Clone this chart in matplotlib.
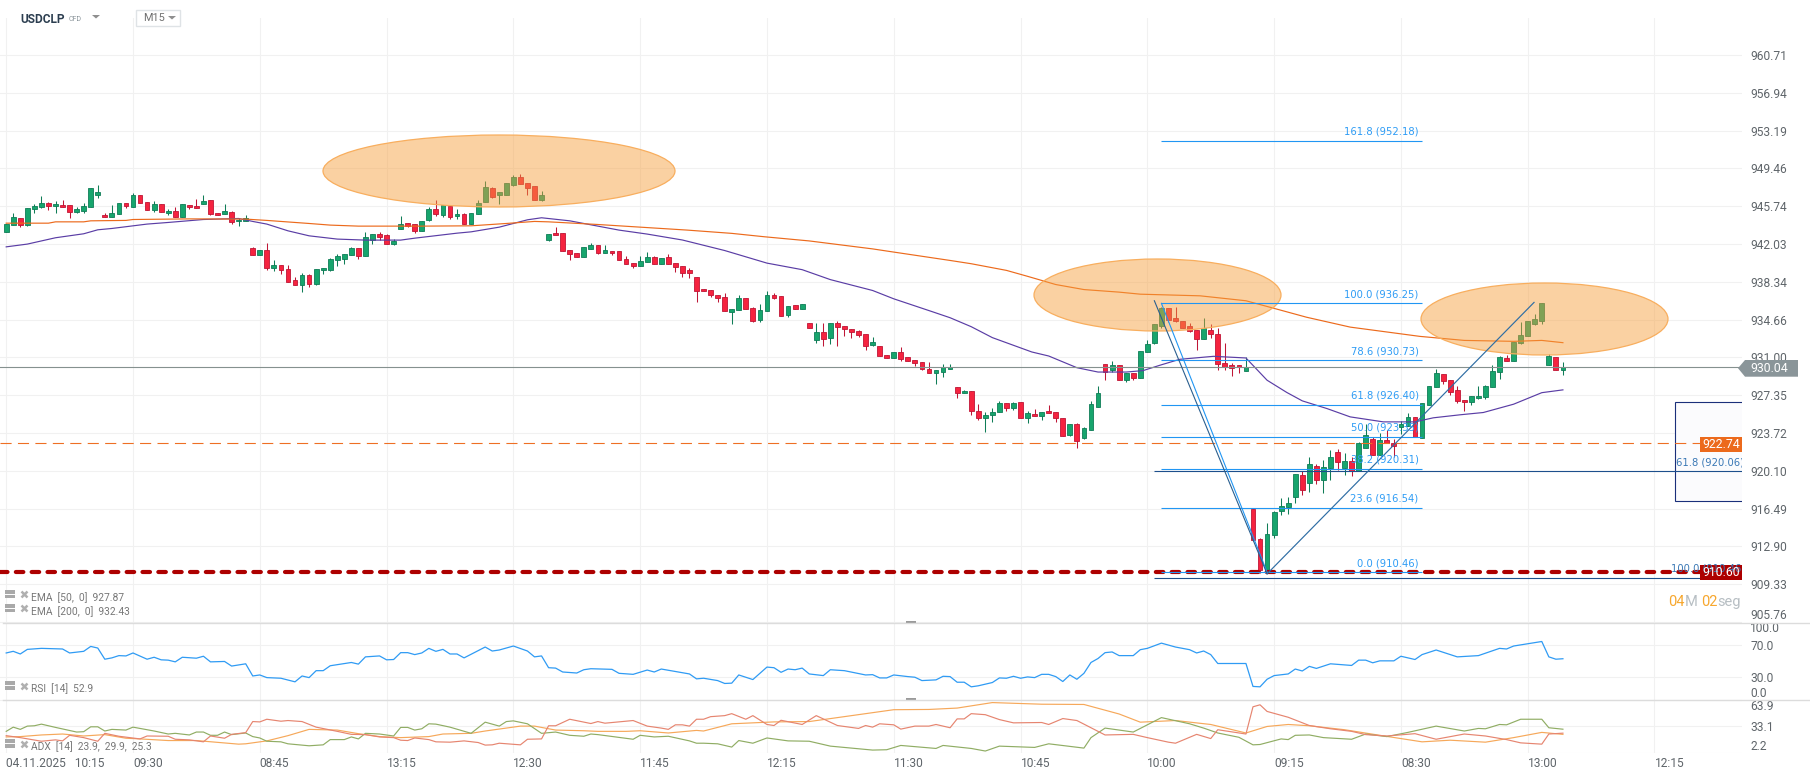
import numpy as np
import matplotlib
matplotlib.use("Agg")
import matplotlib.pyplot as plt
from matplotlib.patches import Ellipse, Rectangle, Polygon

plt.rcParams['font.family'] = ['Roboto', 'DejaVu Sans']

W, H = 1810, 779

# candles
opens = [943.2,943.9,944.6,943.9,945.5,945.7,946.1,945.8,945.9,945.9,
         945.2,945.3,945.7,946.8,944.9,944.7,945.0,946.1,945.7,946.8,
         946.2,945.4,946.0,945.1,945.3,944.7,945.9,945.8,946.0,946.4,
         945.1,945.0,945.2,944.25,944.3,941.6,941.0,941.5,939.7,940.0,
         939.6,938.5,938.0,939.0,938.1,939.5,939.5,940.5,940.6,941.0,
         941.6,940.9,942.45,943.05,942.9,942.05,943.55,944.05,943.95,943.35,
         944.35,945.5,944.85,945.8,944.75,944.95,944.0,945.0,946.2,947.5,
         946.85,946.85,947.85,948.65,948.0,947.7,946.4,942.45,943.15,943.15,
         941.5,941.2,940.8,941.55,941.9,941.2,941.4,941.35,940.55,940.2,
         939.85,940.25,940.75,940.05,940.75,940.2,939.9,939.5,938.8,937.65,
         937.55,937.1,936.9,935.4,935.6,936.8,935.8,934.6,935.5,937.05,
         936.95,935.1,936.1,935.7,934.35,932.7,933.5,932.9,934.35,934.0,
         933.8,933.6,933.3,932.2,932.15,931.25,930.95,931.55,931.0,930.8,
         930.6,929.9,929.5,929.6,929.9,928.15,927.55,927.8,925.85,925.15,
         925.45,925.75,926.6,926.1,926.7,925.15,925.55,925.35,925.85,925.75,
         925.2,923.5,924.6,923.2,924.05,926.2,930.4,929.75,930.25,928.8,
         929.45,929.0,931.55,932.36,934.03,935.76,934.8,934.51,934.03,933.65,
         932.75,933.65,933.26,930.47,930.28,930.28,929.67,916.45,913.63,910.68,
         913.98,916.23,916.64,917.64,919.69,918.92,920.56,919.18,920.37,921.9,
         920.37,921.04,920.04,922.29,923.16,921.58,923.06,922.77,924.31,924.41,
         925.27,923.25,926.43,928.16,929.41,928.8,927.87,926.91,926.69,927.07,
         927.17,928.16,929.6,930.95,930.63,932.43,933.07,934.26,934.58,930.25,
         931.05,929.77]
closes = [944.0,944.64,943.9,945.6,945.8,946.1,945.8,946.0,945.7,945.2,
          945.5,945.8,947.5,947.1,944.7,945.1,946.1,945.8,946.8,946.1,
          945.4,946.0,945.2,945.3,944.7,946.0,945.7,945.6,946.3,945.0,
          944.9,945.3,944.2,944.4,944.6,941.0,941.5,939.7,940.0,939.5,
          938.3,938.0,939.0,938.1,939.6,939.7,940.6,940.85,941.1,941.6,
          940.85,942.7,943.0,942.75,942.0,942.3,943.95,943.8,943.35,944.25,
          945.5,945.0,945.9,944.7,944.95,944.0,945.05,946.1,947.6,946.65,
          947.1,948.0,948.65,947.95,947.55,946.4,946.8,943.05,942.95,941.35,
          941.05,940.8,941.7,941.9,941.2,941.45,941.2,940.45,940.05,939.85,
          940.35,940.75,940.05,940.65,940.05,939.75,939.25,939.25,937.45,937.45,
          937.05,936.75,935.5,935.7,936.8,935.7,934.55,935.6,937.05,936.75,
          935.0,936.0,935.7,936.2,933.85,933.5,932.8,934.35,933.95,933.75,
          933.45,933.2,932.1,932.45,931.15,930.95,931.55,930.85,930.65,930.45,
          929.9,929.5,929.75,930.1,930.1,927.55,927.8,925.8,925.15,925.45,
          925.75,926.6,926.1,926.6,925.15,925.65,925.35,925.75,925.65,925.15,
          923.4,924.6,923.0,924.2,926.55,927.55,929.6,930.25,928.8,929.45,
          929.0,931.65,932.35,934.26,935.76,934.67,934.58,933.9,933.52,932.75,
          933.9,933.23,930.34,930.05,929.99,930.05,930.05,913.5,910.68,914.11,
          916.13,916.77,916.99,919.76,918.31,920.75,919.18,920.46,921.42,920.91,
          921.04,920.04,922.77,923.54,921.58,923.06,922.74,922.48,924.54,925.27,
          923.35,926.62,928.26,929.51,928.71,927.68,926.78,926.69,927.29,927.29,
          928.26,929.7,931.05,930.63,932.49,933.17,934.51,934.74,936.25,931.14,
          929.77,930.1]
highs = [944.0,945.06,944.6,945.6,946.0,946.7,946.2,946.3,946.4,945.9,
         945.7,946.1,947.5,947.8,945.1,945.85,946.1,946.1,947.0,946.8,
         946.2,946.25,946.0,945.5,945.7,946.0,945.9,946.5,946.8,946.4,
         945.1,945.95,945.3,944.55,944.85,941.7,941.5,942.1,940.45,940.0,
         940.0,938.8,939.2,939.15,939.6,939.7,940.7,941.1,941.1,941.7,
         941.6,943.2,943.0,943.2,943.0,942.5,944.75,944.05,943.95,944.25,
         945.7,946.35,945.9,945.8,945.5,945.05,945.05,946.35,948.2,947.6,
         947.1,948.05,948.8,948.95,948.0,947.7,947.2,943.05,943.7,943.15,
         941.5,941.2,941.7,942.1,941.9,941.95,941.4,941.35,940.9,940.2,
         940.9,941.25,940.9,940.65,941.1,940.2,939.9,939.7,938.8,937.65,
         937.55,937.1,937.25,935.7,937.05,936.8,935.85,936.2,937.45,937.25,
         936.95,936.0,936.1,936.2,934.35,934.3,934.3,934.35,934.5,934.0,
         933.8,933.7,933.3,933.0,932.15,931.25,931.55,932.05,931.0,930.8,
         930.6,930.6,929.75,930.4,930.35,928.15,927.9,927.8,926.55,925.75,
         926.1,926.8,926.6,926.7,926.7,925.85,926.05,925.75,926.45,925.75,
         925.2,924.6,924.7,924.3,926.8,928.2,930.4,930.7,930.25,929.45,
         929.45,931.65,932.65,934.26,935.86,935.76,935.86,934.51,934.35,933.65,
         934.8,934.26,933.9,932.43,930.47,930.28,931.05,916.45,913.7,915.1,
         916.29,917.51,917.57,919.76,920.11,921.42,920.75,921.17,922.1,922.2,
         921.78,921.42,922.87,924.57,923.35,923.73,924.02,923.19,924.92,925.69,
         925.27,926.62,928.26,929.93,929.41,928.8,928.26,926.91,927.29,928.29,
         928.35,930.25,931.15,931.27,932.49,934.42,934.51,935.22,936.25,931.37,
         931.05,930.57]
lows = [943.2,943.9,943.7,943.8,945.1,945.6,945.4,945.1,945.7,944.6,
        945.1,945.1,945.65,946.6,944.7,944.7,945.0,945.6,945.65,946.1,
        945.4,945.2,945.2,944.9,944.7,944.7,945.5,945.6,946.0,944.9,
        944.9,945.0,944.0,943.8,944.3,941.0,941.0,939.5,939.4,939.1,
        938.3,938.0,937.4,937.85,938.0,939.1,939.4,939.9,940.1,941.0,
        940.55,940.9,942.0,942.45,942.0,941.9,943.55,943.7,943.1,943.35,
        944.3,944.8,944.7,944.5,944.5,944.0,944.0,945.0,946.2,946.55,
        946.0,946.85,947.75,947.95,946.85,946.4,946.3,942.3,942.95,941.35,
        940.5,940.8,940.8,941.55,941.05,941.2,941.0,940.45,940.05,939.65,
        939.85,940.25,940.05,940.05,940.05,939.35,938.8,938.7,936.35,937.45,
        936.85,936.35,935.5,934.25,935.6,935.7,934.4,934.45,935.5,936.65,
        935.0,934.9,935.7,935.7,933.85,932.4,932.1,932.3,932.1,933.1,
        932.9,933.0,931.7,932.1,931.15,930.95,930.95,930.65,930.65,930.15,
        929.75,929.5,928.4,929.1,929.9,927.05,927.55,925.45,924.95,923.85,
        924.75,925.75,925.8,925.95,925.15,924.65,925.35,924.95,925.65,924.75,
        923.4,923.4,922.3,923.1,924.0,926.2,928.8,929.55,928.8,928.6,
        928.8,929.0,931.55,932.27,933.84,934.48,934.48,933.9,933.45,931.7,
        932.75,932.85,929.77,929.77,929.19,929.45,929.67,913.4,910.4,910.5,
        913.69,915.87,915.97,917.03,917.8,918.12,918.86,917.96,919.24,920.2,
        919.66,919.56,920.04,922.29,921.58,921.58,922.74,921.42,923.64,924.41,
        923.35,923.25,926.43,928.16,928.42,927.36,926.62,925.79,926.4,926.97,
        926.97,928.16,928.96,930.63,930.63,932.33,933.07,934.1,934.26,930.25,
        929.77,929.35]

# moving averages
ema50_x = [0,3,7,11,13,15,20,23,28,33,35,37,40,43,47,51,56,58,64,66,70,74,76,80,84,87,91,96,102,108,113,117,123,126,
           131.5,134,137,140,145.6,148,152,155,159,161.4,163.8,166.6,171.4,176,179,181.8,184,187.5,190.8,195.5,200,
           202.6,206.4,209.7,214,218,221]
ema50 = [941.76,942.03,942.65,943.04,943.43,943.56,943.99,944.15,944.44,944.54,944.25,943.99,943.33,942.84,942.52,
         942.42,942.42,942.61,943.1,943.23,943.69,944.41,944.61,944.31,943.79,943.4,943.01,942.43,941.4,940.17,939.53,
         938.56,937.5,936.69,935.43,934.85,933.98,932.92,931.53,931.14,930.01,929.59,929.59,929.73,930.25,930.82,
         931.11,930.95,928.8,927.62,926.81,926.07,925.27,924.79,924.79,925.18,925.47,925.69,926.49,927.6,927.87]
ema200_x = [0,6,7,11,12,17,18,26,34,37,43,46,50,59,66,71,75,77,84,96.7,103,107.6,114,123,125.5,134,137,142,145,149,
            153,158,161,169.5,176,180,184.6,190.8,200.7,207,214,218,221]
ema200 = [944.08,944.08,944.21,944.21,944.31,944.35,944.44,944.5,944.48,944.35,944.05,943.89,943.79,943.79,943.82,
          944.05,944.25,944.21,943.95,943.4,943.08,942.75,942.34,941.56,941.3,940.43,940.11,939.46,938.88,938.08,
          937.59,937.34,937.14,936.98,936.5,935.76,934.9,933.94,933.04,932.65,932.56,932.65,932.43]

# RSI panel
rsi_x = [0,1,2,3,5,8,9,11,12,13,14,15,16,17,18,20,21,22,23,24,25,27,28,29,31,32,34,35,36,37,39,41,42,43,44,45,46,49,
         50,51,53,54,55,56,57,58,59,60,61,62,63,64,65,68,69,70,72,74,75,76,77,78,79,81,82,83,86,87,89,91,92,93,97,98,
         99,101,102,103,104,106,108,109,110,111,112,113,114,116,117,119,122,123,124,125,126,128,129,130,132,133,134,
         135,136,137,138,140,141,142,143,144,145,146,147,148,149,150,151,152,153,154,155,156,157,158,160,161,162,164,
         166,168,169,170,171,172,176,177,178,179,180,182,183,184,185,186,188,191,192,193,194,195,197,198,200,201,203,
         206,209,212,213,214,216,218,219,220,221]
rsi = [60.3,62.4,59.0,64.9,66.2,65.4,60.3,62.4,68.7,66.6,52.3,54.0,56.9,56.5,60.3,52.3,54.8,51.5,51.1,48.9,54.8,53.6,
       56.1,48.9,49.4,43.5,46.4,30.8,32.1,28.7,27.9,23.3,30.8,28.7,37.6,37.6,43.9,48.1,46.0,55.3,56.5,51.5,51.9,60.7,
       60.7,58.2,60.3,66.2,62.4,64.9,59.0,59.0,54.0,67.9,62.8,64.1,69.2,62.8,55.3,56.5,41.4,40.9,35.9,34.6,38.8,40.1,
       39.3,34.2,32.9,38.4,35.9,39.7,33.4,27.1,27.9,24.9,21.2,21.6,32.1,26.2,42.2,41.4,35.5,39.7,38.8,40.9,33.4,31.3,
       38.8,37.6,32.1,32.5,28.3,28.3,32.1,30.0,29.2,24.9,25.8,30.4,30.0,22.8,22.8,16.9,18.2,22.4,28.3,27.9,30.4,27.9,
       29.6,28.7,32.9,32.9,30.0,23.7,32.1,26.6,34.2,48.1,53.2,60.7,61.6,56.9,56.9,64.5,66.2,72.9,67.9,64.5,60.3,62.8,
       58.2,46.8,46.8,17.4,16.9,26.6,31.3,33.4,39.7,37.2,43.1,40.5,46.4,44.3,51.1,51.1,47.7,50.2,50.2,56.1,51.9,58.2,
       64.1,55.3,56.9,66.2,65.4,69.2,72.1,75.0,55.3,52.3,52.9]

# ADX panel
adx_x = [0,2,5,8,11,14,17,19,23,27,33,34,37,40,43,47,50,53,56,60,62,66,68,73,75,78,82,84,88,90,94,98,99,103,109,114,
         126,131,135,140,147,153,158,161,166,171,176,179,182,185,190,195,201,205,210,214,218,221]
adx = [20.9,21.3,23.2,24.3,22.0,23.6,19.4,18.6,16.7,16.7,12.5,12.9,16.3,22.4,29.7,28.9,24.7,21.3,20.1,21.3,24.3,25.1,
       27.8,33.5,33.5,28.9,28.1,27.4,27.4,28.1,25.5,28.5,27.8,36.2,38.4,38.8,52.6,52.9,54.5,60.9,59.0,58.7,47.6,38.1,
       40.0,35.4,25.5,33.1,35.4,33.9,29.3,22.8,15.2,17.1,14.8,20.1,26.2,23.9]
plus_di_x = [0,1,2,3,4,5,7,10,11,12,13,14,15,17,18,21,23,24,26,27,28,29,30,31,32,34,35,36,37,39,40,43,45,46,48,49,50,
             51,53,55,56,57,58,59,60,61,63,66,68,70,71,72,74,76,78,80,82,83,84,89,90,92,94,97,98,99,101,103,104,106,
             108,111,114,117,123,125,127,132,133,137,139,141,146,148,153,154,156,160,164,168,170,172,175,177,178,181,
             182,183,185,187,191,193,196,199,203,207,209,210,212,213,215,218,219,221]
plus_di = [27.4,32.3,29.7,33.5,33.9,35.8,32.0,26.6,27.0,32.7,32.7,27.8,29.7,28.9,32.3,27.8,24.3,25.1,23.2,26.6,26.6,
           22.8,22.8,26.6,23.6,25.5,21.3,19.7,15.9,15.2,12.9,10.6,11.7,17.8,17.8,20.9,18.6,25.1,24.3,22.0,32.0,32.0,
           28.9,30.4,36.2,35.8,32.3,25.1,38.1,33.5,38.8,39.6,36.2,25.1,26.6,22.8,21.7,24.3,23.6,18.2,22.8,20.9,21.7,
           16.3,13.6,13.6,12.9,9.1,16.7,13.6,19.7,16.3,15.9,10.2,5.6,6.0,11.0,7.5,11.0,7.5,4.5,10.2,8.7,12.9,7.9,20.1,
           31.2,26.6,43.4,36.2,31.2,25.5,20.5,11.7,12.1,18.6,17.8,22.8,23.2,20.1,18.2,24.3,21.3,26.2,33.5,27.8,30.8,
           30.4,35.4,35.0,41.5,41.5,31.6,29.9]
minus_di_x = [0,2,5,7,8,9,11,13,14,16,19,20,23,24,26,28,29,31,32,34,35,36,37,39,40,42,44,47,49,51,53,55,56,57,58,60,
              61,63,65,67,68,69,70,73,74,76,77,78,80,83,84,85,89,91,93,94,95,96,97,98,99,100,102,103,105,106,108,109,
              110,113,115,118,121,122,123,124,126,127,129,131,132,134,135,136,137,139,141,143,147,148,150,152,154,156,
              160,162,165,166,169,171,172,176,177,178,179,182,185,188,191,193,196,200,203,207,210,213,215,218,219,221]
minus_di = [22.4,20.1,15.9,17.5,16.3,22.8,20.1,15.9,25.1,21.7,18.6,22.0,21.7,18.2,17.5,15.2,22.0,19.4,23.9,25.9,38.8,
            38.4,41.5,39.2,40.0,38.8,32.3,27.4,23.9,23.6,20.9,20.1,17.1,16.7,19.7,17.8,15.2,14.8,16.3,14.4,11.4,11.7,
            13.6,11.7,18.2,18.6,33.9,33.9,41.5,36.5,38.8,36.9,40.0,33.5,31.2,29.7,35.0,35.0,33.5,41.5,41.5,44.5,45.7,
            48.0,41.5,45.7,35.4,34.2,40.3,35.4,45.7,34.2,30.8,34.2,32.3,36.2,35.0,30.0,33.5,33.5,35.4,31.6,41.9,41.9,
            48.0,46.8,41.1,37.3,37.7,35.4,42.3,40.0,31.6,23.2,23.9,20.1,14.8,13.6,23.9,19.0,29.3,24.3,56.0,58.3,50.6,
            43.8,34.2,30.4,27.4,23.6,22.0,24.7,18.2,24.3,22.0,17.8,14.0,12.5,24.3,25.3]

price_ticks = [960.71,956.94,953.19,949.46,945.74,942.03,938.34,934.66,931.00,927.35,923.72,920.10,916.49,912.90,909.33,905.76]
time_labels = ["04.11.2025   10:15","09:30","08:45","13:15","12:30","11:45","12:15","11:30","10:45","10:00","09:15","08:30","13:00","12:15"]
rsi_ticks = [100.0, 70.0, 30.0, 0.0]
adx_ticks = [63.9, 33.1, 2.2]

fib_levels = [161.8, 100.0, 78.6, 61.8, 50.0, 38.2, 23.6, 0.0]
fib_prices = [952.18, 936.25, 930.73, 926.40, 923.35, 920.31, 916.54, 910.46]

last_price = 930.04
pending_price = 922.74
support_price = 910.5

# colours
GREEN, GREEN_E = '#17a56d', '#0f7d57'
RED, RED_E = '#f5233f', '#bf1636'
GRID = '#f1f1f1'
FIB = '#2196f3'
FIB_DARK = '#1d4f8c'
LABEL = '#5f656a'

# pixel mapping of the chart area, 1 px is 0.72 pt at this dpi
PX0, PX_STEP = 6.2, 7.044
RIGHT = 1742


def box(x0, y0, x1, y1):
    return [x0 / W, 1 - y1 / H, (x1 - x0) / W, (y1 - y0) / H]


def idx(px):
    return (px - PX0) / PX_STEP


fig = plt.figure(figsize=(W / 100, H / 100), dpi=100, facecolor='white')
ax = fig.add_axes(box(0, 18, RIGHT, 622))
ax_rsi = fig.add_axes(box(0, 622, RIGHT, 700))
ax_adx = fig.add_axes(box(0, 700, RIGHT, 753))
over = fig.add_axes([0, 0, 1, 1], zorder=10)
over.set_xlim(0, W)
over.set_ylim(H, 0)
over.axis('off')
px = over.transData

grid_x = np.arange(0, 235, 18)
for a in (ax, ax_rsi, ax_adx):
    a.set_xlim(idx(0), idx(RIGHT))
    a.set_xticks(grid_x)
    a.yaxis.tick_right()
    a.tick_params(length=0, labelsize=8.64, labelcolor=LABEL, pad=5.8)
    a.grid(True, color=GRID, lw=0.8)
    a.set_axisbelow(True)
    for s in a.spines.values():
        s.set_visible(False)

# main panel
ax.set_yscale('log')
ax.set_ylim(905.76, 964.42)
ax.set_yticks(price_ticks)
ax.set_yticklabels([f"{p:.2f}" for p in price_ticks])
ax.minorticks_off()
ax.get_yticklabels()[-1].set_va('bottom')
ax.tick_params(labelbottom=False)

xs = np.arange(len(opens))
o, c, h, l = map(np.array, (opens, closes, highs, lows))
up = c >= o
ax.vlines(xs[up], l[up], h[up], color=GREEN_E, lw=0.75, zorder=2)
ax.vlines(xs[~up], l[~up], h[~up], color=RED_E, lw=0.75, zorder=2)
ax.bar(xs[up], (c - o)[up], bottom=o[up], width=0.68, color=GREEN, edgecolor=GREEN_E, lw=0.6, zorder=3)
ax.bar(xs[~up], (o - c)[~up], bottom=c[~up], width=0.68, color=RED, edgecolor=RED_E, lw=0.6, zorder=3)

ax.plot(ema50_x, ema50, color='#5a3da5', lw=0.85, zorder=4)
ax.plot(ema200_x, ema200, color='#ec6a1c', lw=0.85, zorder=4)

# highlighted areas
for x0, x1, y0, y1 in [(323, 675, 135, 207), (1034, 1281, 259, 331), (1421, 1668, 283, 355)]:
    ax.add_patch(Ellipse(((x0 + x1) / 2, (y0 + y1) / 2), x1 - x0, y1 - y0, transform=px, facecolor=(0.965, 0.62, 0.23, 0.47),
                         edgecolor='#f8ae5e', lw=0.9, zorder=5))

# price lines
ax.axhline(last_price, color='#85918f', lw=0.8, zorder=6)
ax.axhline(pending_price, color='#ee6f24', lw=0.8, dashes=(10, 5.7), zorder=4)
ax.axhline(support_price, color='#ad0000', lw=3, dashes=(1.8, 2.0), dash_capstyle='round', zorder=5)

# fibonacci box on the right
ax.add_patch(Rectangle((idx(1675.3), 917.2), 20, 9.5, facecolor='#fbfbfd', edgecolor='#1a2f7a', lw=0.8, zorder=1))
ax.hlines([920.06, 909.9], idx(1154), idx(RIGHT), color=FIB_DARK, lw=0.8, zorder=6)

# fibonacci retracement
ax.hlines(fib_prices, 164, 201, color=FIB, lw=0.8, zorder=6)
for lev, pr in zip(fib_levels, fib_prices):
    ax.annotate(f"{lev:.1f} ({pr:.2f})", (200.5, pr), xytext=(0, 3), textcoords='offset points', ha='right', va='bottom',
                fontsize=7.2, family='DejaVu Sans', color='#2e9cf5', zorder=7)

ax.plot([164, 179], [936.25, 910.46], color=FIB, lw=0.8, zorder=6)
ax.plot([163, 179], [936.5, 910.3], color='#2a5f8f', lw=0.8, zorder=6)
ax.plot([179, 216.9], [910.3, 936.34], color='#2e6da4', lw=0.85, zorder=6)

# right side tags inside the chart
ax.add_patch(Rectangle((1700, 436.7), 42, 15, transform=px, facecolor='#ec6a1c', edgecolor='none', zorder=8))
ax.add_patch(Rectangle((1700, 565), 42, 15, transform=px, facecolor='#ad0000', edgecolor='none', zorder=8))
ax.text(1721, 444.2, "922.74", transform=px, color='white', fontsize=8.8, ha='center', va='center', zorder=10)
ax.text(1676, 462.3, "61.8 (920.06)", transform=px, color='#3a78b5', fontsize=7.2, family='DejaVu Sans', va='center',
        clip_on=True, zorder=9)
ax.text(1670.7, 568.5, "100.0 (910.46)", transform=px, color='#3a78b5', fontsize=7.2, family='DejaVu Sans', va='center',
        clip_on=True, zorder=9)
ax.text(1721, 572.5, "910.60", transform=px, color='white', fontsize=8.8, ha='center', va='center', zorder=10)

# RSI
ax_rsi.set_ylim(0, 100)
ax_rsi.set_yticks(rsi_ticks)
ax_rsi.set_yticklabels([f"{v:.1f}" for v in rsi_ticks])
ax_rsi.get_yticklabels()[0].set_va('top')
ax_rsi.get_yticklabels()[-1].set_va('bottom')
ax_rsi.tick_params(labelbottom=False)
ax_rsi.plot(rsi_x, rsi, color='#2f9bf4', lw=0.9)
ax_rsi.patch.set_alpha(0)

# ADX
ax_adx.set_ylim(2.2, 63.9)
ax_adx.set_yticks(adx_ticks)
ax_adx.set_yticklabels([f"{v:.1f}" for v in adx_ticks])
ax_adx.get_yticklabels()[0].set_va('top')
ax_adx.get_yticklabels()[-1].set_va('bottom')
ax_adx.set_xticklabels(time_labels, ha='left')
ax_adx.tick_params(axis='x', pad=3)
ax_adx.plot(adx_x, adx, color='#f6a85a', lw=0.85, clip_on=False)
ax_adx.plot(plus_di_x, plus_di, color='#90ad64', lw=0.85, clip_on=False)
ax_adx.plot(minus_di_x, minus_di, color='#e68570', lw=0.85, clip_on=False)
ax_adx.patch.set_alpha(0)

# panel separators and handles
for y in (622.5, 699.5):
    over.plot([3, W], [y, y], color='#dcdcdc', lw=1)
    over.add_patch(Rectangle((906, y - 1.5), 10, 3, facecolor='#9a9a9a', edgecolor='none'))

# last price tag
over.add_patch(Polygon([(1738, 368.2), (1745, 360), (1798, 360), (1798, 376.7), (1745, 376.7)], facecolor='#8a9599', edgecolor='none'))
over.text(1750, 368.5, "930.04", color='white', fontsize=8.8, va='center')

# countdown
for tx, s, col in [(1668, "04", '#f7a72e'), (1684.5, "M", '#b7bec3'), (1701, "02", '#f7a72e'), (1717.5, "seg", '#b7bec3')]:
    over.text(tx, 602, s, color=col, fontsize=10.5, va='center')

# symbol header
over.text(20, 19, "USDCLP", color='#2c3e50', fontsize=8.6, fontweight='bold', va='center')
over.text(69, 19.5, "CFD", color='#8a949a', fontsize=5, va='center')
over.add_patch(Polygon([(92, 15), (100, 15), (96, 18.5)], facecolor='#8f8f8f', edgecolor='none'))
over.add_patch(Rectangle((136, 10), 44, 15.7, facecolor='white', edgecolor='#dfe3e6', lw=1))
over.text(143, 18, "M15", color='#707070', fontsize=7.8, va='center')
over.add_patch(Polygon([(168, 16), (176, 16), (172, 19.5)], facecolor='#8f8f8f', edgecolor='none'))

# indicator legends
legend_rows = [("EMA  [50,  0]  927.87", 597.7), ("EMA  [200,  0]  932.43", 611.7), ("RSI  [14]  52.9", 689), ("ADX  [14]  23.9,  29.9,  25.3", 747)]
for s, y in legend_rows:
    over.add_patch(Rectangle((5.4, y - 8), 10, 8.5, facecolor='#a9a9a9', edgecolor='none'))
    over.plot([5.4, 15.4], [y - 4, y - 4], color='white', lw=0.7)
    over.plot([24], [y - 3.5], marker='x', ms=5, mew=1.8, color='#b0b0b0')
    over.text(31, y, s, color='#777777', fontsize=7.4, va='center')

fig.savefig("out.png", dpi=100)
